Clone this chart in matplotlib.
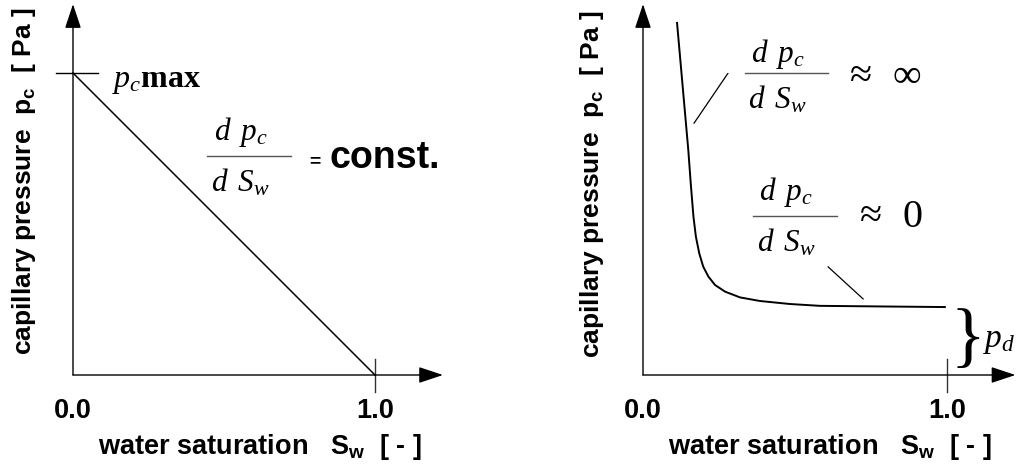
import matplotlib
matplotlib.use("Agg")
import matplotlib.pyplot as plt

plt.rcParams['mathtext.fontset'] = 'custom'
plt.rcParams['mathtext.it'] = 'Liberation Serif:italic'
plt.rcParams['mathtext.rm'] = 'Liberation Serif'
plt.rcParams['mathtext.bf'] = 'Liberation Serif:bold'
plt.rcParams['mathtext.sf'] = 'Liberation Sans:bold'

# ---- data ----
linear_sw = [0.0, 1.0]
linear_pc = [1.0, 0.0]

curve_sw = [0.112, 0.149, 0.157, 0.166, 0.174, 0.185, 0.198, 0.215, 0.237, 0.270,
            0.319, 0.385, 0.484, 0.582, 0.780, 0.993]
curve_pc = [1.166, 0.745, 0.635, 0.524, 0.458, 0.403, 0.359, 0.326, 0.298, 0.276,
            0.257, 0.245, 0.235, 0.229, 0.227, 0.225]

tick_labels = ["0.0", "1.0"]
tick_values = [0.0, 1.0]

xlabel = r"water saturation   $\mathsf{S_w}$  [ - ]"
ylabel = r"capillary pressure  $\mathsf{p_c}$  [ Pa ]"

W, H = 1020, 466
fig = plt.figure(figsize=(W / 100, H / 100), dpi=100)

def px_axes(x0, x1, ytop, ybot):
    return fig.add_axes([x0 / W, (H - ybot) / H, (x1 - x0) / W, (ybot - ytop) / H])

axL = px_axes(73, 375, 73, 375)
axR = px_axes(643, 947, 73, 375)

sans = dict(family='Liberation Sans', weight='bold')
axcol = '#333333'
LBL = 19.5

for ax in (axL, axR):
    ax.set_xlim(0, 1)
    ax.set_ylim(0, 1)
    ax.axis('off')
    # axes arrows
    ax.annotate('', xy=(1.225, 0), xytext=(0, 0), annotation_clip=False,
                arrowprops=dict(arrowstyle='-|>,head_length=15,head_width=5',
                                mutation_scale=1, lw=1.0, color='black',
                                shrinkA=0, shrinkB=0))
    ax.annotate('', xy=(0, 1.228), xytext=(0, 0), annotation_clip=False,
                arrowprops=dict(arrowstyle='-|>,head_length=15,head_width=5',
                                mutation_scale=1, lw=1.0, color='black',
                                shrinkA=0, shrinkB=0))
    # tick at 1.0
    ax.plot([1.0, 1.0], [0.053, -0.055], color=axcol, lw=1.0, clip_on=False)
    for v, t in zip(tick_values, tick_labels):
        ax.text(v, -0.118, t, ha='center', va='center', fontsize=LBL,
                clip_on=False, **sans)
    ax.text(0.083, -0.24, xlabel, ha='left', va='center', fontsize=LBL,
            clip_on=False, **sans)

axL.text(-0.162, 0.64, ylabel, rotation=90, ha='center', va='center',
         fontsize=19, clip_on=False, **sans)
axR.text(-0.168, 0.63, ylabel, rotation=90, ha='center', va='center',
         fontsize=19, clip_on=False, **sans)

# ---- left panel ----
axL.plot(linear_sw, linear_pc, color='black', lw=1.1, clip_on=False)
axL.plot([-0.056, 0.083], [1.0, 1.0], color='black', lw=1.0, clip_on=False)
axL.text(0.13, 0.975, r"$p_c\mathbf{max}$", fontsize=23, ha='left', va='center')

FR = 22.5

def fraction(ax, xc, yc, half, up, down=0.116, shift=-0.028):
    ax.text(xc + shift, yc + up, r"$d\ \,p_c$", fontsize=FR, ha='center',
            va='baseline')
    ax.plot([xc - half, xc + half], [yc, yc], color='#555555', lw=1.0, clip_on=False)
    ax.text(xc + shift, yc - down, r"$d\ \,S_w$", fontsize=FR, ha='center',
            va='baseline')

fraction(axL, 0.583, 0.725, 0.139, 0.053)
axL.text(0.8, 0.705, "=", fontsize=14, ha='center', va='center', **sans)
axL.text(0.85, 0.72, "const.", fontsize=27, ha='left', va='center', **sans)

# ---- right panel ----
axR.plot(curve_sw, curve_pc, color='black', lw=1.4, clip_on=False)
axR.plot([0.168, 0.280], [0.834, 1.0], color='black', lw=0.9)
axR.plot([0.609, 0.724], [0.358, 0.252], color='black', lw=0.9)

fraction(axR, 0.472, 1.0, 0.137, 0.036)
axR.text(0.66, 0.995, r"$\approx\ \,\infty$", fontsize=29, ha='left', va='center')
fraction(axR, 0.5, 0.526, 0.139, 0.053)
axR.text(0.693, 0.526, r"$\approx\ \,0$", fontsize=29, ha='left', va='center')

axR.text(1.07, 0.114, "}", family='Liberation Serif', fontsize=52, ha='center',
         va='center', clip_on=False)
axR.text(1.12, 0.118, r"$p_d$", fontsize=24, ha='left', va='center', clip_on=False)

fig.savefig("out.png", dpi=100)
